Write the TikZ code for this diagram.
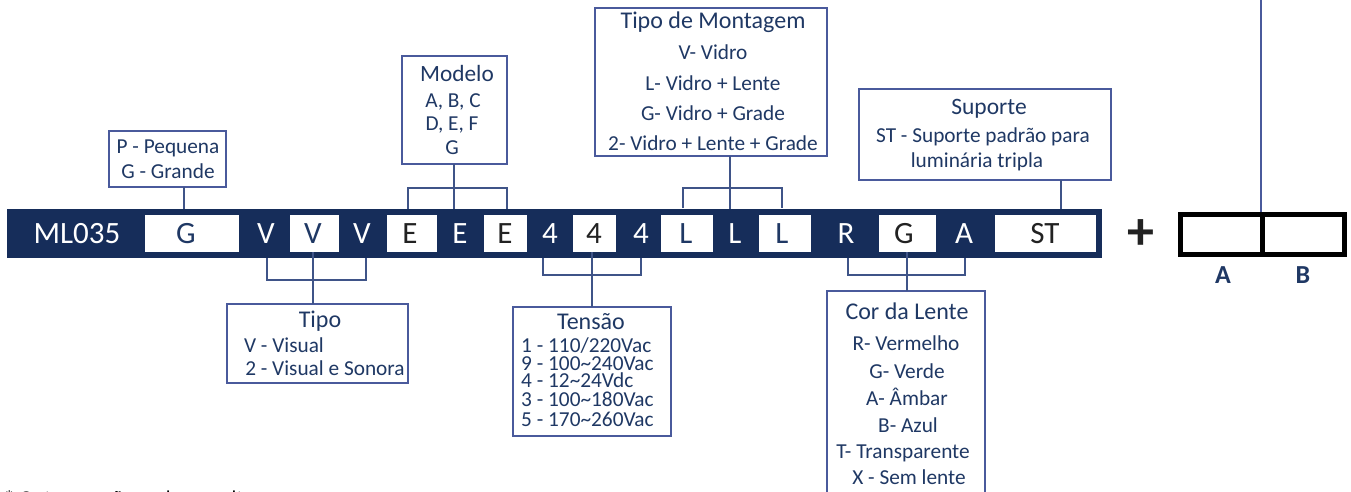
\documentclass[tikz,border=0pt]{standalone}
\usepackage{fontspec}
\setmainfont{Carlito}
\definecolor{barnavy}{HTML}{162D5A}
\definecolor{inknavy}{HTML}{1F3864}
\definecolor{boxline}{HTML}{4A5A9C}
\definecolor{connline}{HTML}{3F5488}
\definecolor{inkdark}{HTML}{222222}
\newcommand{\fs}[1]{\fontsize{#1}{#1}\selectfont}
\tikzset{
  bar/.style={fill=barnavy,draw=none,inner sep=0pt,outer sep=0pt},
  cell/.style={fill=white,draw=none,inner sep=0pt,outer sep=0pt,minimum height=37pt,text height=0pt,text depth=0pt},
  onbar/.style={inner sep=0pt,anchor=base,font=\fs{31}},
  lw/.style={onbar,text=white},
  ln/.style={onbar,text=inknavy},
  ld/.style={onbar,text=inkdark},
  infobox/.style={draw=boxline,line width=1.2pt,fill=white,inner sep=0pt,outer sep=0pt},
  title/.style={inner sep=0pt,anchor=base,text=inknavy,font=\fs{24}},
  body/.style={inner sep=0pt,anchor=base,text=inknavy,font=\fs{21.3}},
  bodyl/.style={inner sep=0pt,anchor=base west,text=inknavy,font=\fs{21.3}},
  conn/.style={draw=connline,line width=1.1pt},
  blackcell/.style={draw=black,line width=5pt,fill=white,inner sep=0pt,outer sep=0pt,minimum height=40pt},
}
\begin{document}
\begin{tikzpicture}[x=1pt,y=-1pt]
\useasboundingbox (0,0) rectangle (1351,491);
\clip (0,0) rectangle (1351,491);
% band
\node[bar,minimum width=1095pt,minimum height=49pt] (band) at (554.5,233.5) {};
% white cells
\foreach \nm/\xa/\xb in {cg/145/239,cv/290/339,ce1/387/437,ce2/484/527,cf/573/616,cl1/661/713,cl2/759/811,cc/879/936,cs/995/1096}{
  \pgfmathsetmacro{\cx}{(\xa+\xb)/2}
  \pgfmathsetmacro{\cw}{\xb-\xa}
  \node[cell,minimum width=\cw pt] (\nm) at (\cx,233.5) {};
}
% band letters
\node[lw] (lml) at (77,243) {ML035};
\node[ln] (lg) at (186,243) {G};
\node[lw] (lv1) at (266,243) {V};
\node[ln] (lv2) at (313,243) {V};
\node[lw] (lv3) at (362,243) {V};
\node[ld] (le1) at (410,243) {E};
\node[lw] (le2) at (460,243) {E};
\node[ld] (le3) at (505,243) {E};
\node[lw] (l41) at (550,243) {4};
\node[ld] (l42) at (594,243) {4};
\node[lw] (l43) at (641,243) {4};
\node[ln] (ll1) at (686,243) {L};
\node[lw] (ll2) at (735,243) {L};
\node[ln] (ll3) at (782,243) {L};
\node[lw] (lr) at (846,243) {R};
\node[ld] (lgc) at (904,243) {G};
\node[lw] (la) at (964,243) {A};
\node[ld] (lst) at (1045,243) {ST};
% info boxes
\node[infobox,minimum width=117pt,minimum height=56pt] (bpg) at (167.5,159) {};
\node[infobox,minimum width=105pt,minimum height=108pt] (bmod) at (454.5,110) {};
\node[infobox,minimum width=232pt,minimum height=148pt] (bmon) at (711,82) {};
\node[infobox,minimum width=252pt,minimum height=91pt] (bsup) at (985,134.5) {};
\node[infobox,minimum width=181pt,minimum height=79pt] (btip) at (317.5,343.5) {};
\node[infobox,minimum width=158pt,minimum height=129pt] (bten) at (592,371.5) {};
\node[infobox,minimum width=158pt,minimum height=210pt] (bcor) at (906,396) {};
% free ends of the connectors
\coordinate (g1) at (184,209);
\coordinate (e1) at (408,209);
\coordinate (e2) at (454,209);
\coordinate (e3) at (507,209);
\coordinate (l1) at (683,208);
\coordinate (l2) at (730,209);
\coordinate (l3) at (782,208);
\coordinate (s1) at (1061,209);
\coordinate (v1) at (267,258);
\coordinate (v2) at (313,252);
\coordinate (v3) at (366,258);
\coordinate (f1) at (543,258);
\coordinate (f2) at (592,252);
\coordinate (f3) at (641,258);
\coordinate (c1) at (848,258);
\coordinate (c2) at (907,252);
\coordinate (c3) at (965,258);
\coordinate (top) at (1261,0);
% connectors
\draw[conn] (bpg.south -| g1) -- (g1);
\draw[conn] (bmod.south -| e2) -- (e2);
\draw[conn] (e1) |- (454,188) -| (e3);
\draw[conn] (bmon.south -| l2) -- (l2);
\draw[conn] (l1) |- (730,188) -| (l3);
\draw[conn] (bsup.south -| s1) -- (s1);
\draw[conn] (v2) -- (btip.north -| v2);
\draw[conn] (v1) |- (313,280) -| (v3);
\draw[conn] (f2) -- (bten.north -| f2);
\draw[conn] (f1) |- (592,275) -| (f3);
\draw[conn] (c2) -- (bcor.north -| c2);
\draw[conn] (c1) |- (907,275) -| (c3);
% box texts
\node[body] (tp1) at (168,153) {P - Pequena};
\node[body] (tp2) at (168,178) {G - Grande};
\node[title,font=\fs{23.3}] (tm0) at (457,81) {Modelo};
\node[body] (tm1) at (453,107) {A, B, C};
\node[body] (tm2) at (452,130) {D, E, F};
\node[body] (tm3) at (452,154) {G};
\node[title] (tn0) at (713,28) {Tipo de Montagem};
\node[body] (tn1) at (713,59) {V- Vidro};
\node[body] (tn2) at (713,90) {L- Vidro + Lente};
\node[body] (tn3) at (713,120) {G- Vidro + Grade};
\node[body] (tn4) at (713,150) {2- Vidro + Lente + Grade};
\node[title,font=\fs{23.5}] (ts0) at (989,114) {Suporte};
\node[body] (ts1) at (983,142) {ST - Suporte padrão para};
\node[body] (ts2) at (977,167) {luminária tripla};
\node[title] (tt0) at (320,327) {Tipo};
\node[body] (tt1) at (284,352) {V - Visual};
\node[body] (tt2) at (325,375) {2 - Visual e Sonora};
\node[title] (te0) at (591,329) {Tensão};
\node[bodyl] (te1) at (521,352) {1 - 110/220Vac};
\node[bodyl] (te2) at (521,370) {9 - 100\char`\~240Vac};
\node[bodyl] (te3) at (521,387) {4 - 12\char`\~24Vdc};
\node[bodyl] (te4) at (521,406) {3 - 100\char`\~180Vac};
\node[bodyl] (te5) at (521,426) {5 - 170\char`\~260Vac};
\node[title] (tc0) at (907,319) {Cor da Lente};
\node[body] (tc1) at (906,350) {R- Vermelho};
\node[body] (tc2) at (907,378) {G- Verde};
\node[body] (tc3) at (907,405) {A- Âmbar};
\node[body] (tc4) at (908,432) {B- Azul};
\node[body] (tc5) at (903,458) {T- Transparente};
\node[body] (tc6) at (909,484) {X - Sem lente};
% plus and the two-cell code
\node[inner sep=0pt,text=inkdark,font=\fs{54}\bfseries] (plus) at (1141,235) {+};
\draw[conn,draw=boxline] (top) -- (1261,212);
\node[blackcell,minimum width=82pt,anchor=east] (ba) at (1262,234.5) {};
\node[blackcell,minimum width=82pt,anchor=west] (bb) at (1262,234.5) {};
\node[inner sep=0pt,anchor=base,text=inknavy,font=\fs{26}\bfseries] (ta) at (1223,283) {A};
\node[inner sep=0pt,anchor=base,text=inknavy,font=\fs{26}\bfseries] (tb) at (1303,283) {B};
% foot note, cut by the lower edge
\node[inner sep=0pt,anchor=base west,text=black,font=\fs{21}] (foot) at (4,505) {* Outras opções sob consulta};
\end{tikzpicture}
\end{document}
